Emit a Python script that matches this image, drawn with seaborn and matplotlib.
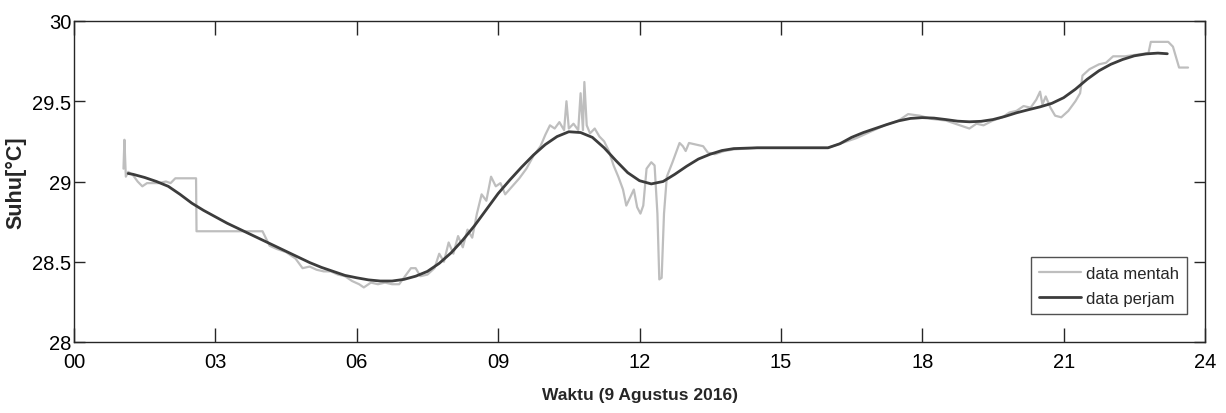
import matplotlib
matplotlib.use("Agg")
import matplotlib.pyplot as plt
import seaborn as sns
import pandas as pd

# raw data (data mentah): time in hours, temperature in deg C
raw_t = [1.05, 1.07, 1.09, 1.10, 1.15, 1.25, 1.35, 1.45, 1.55, 1.65, 1.8, 1.95, 2.05, 2.15, 2.3, 2.45,
         2.59, 2.60, 3.0, 3.5, 4.0, 4.15, 4.3, 4.5, 4.7, 4.85, 5.0, 5.15, 5.3, 5.45, 5.6, 5.75, 5.9,
         6.05, 6.15, 6.3, 6.45, 6.6, 6.75, 6.9, 7.05, 7.15, 7.25, 7.35, 7.5, 7.65, 7.75, 7.85, 7.95,
         8.05, 8.15, 8.25, 8.35, 8.45, 8.55, 8.65, 8.75, 8.85, 8.95, 9.05, 9.15, 9.3, 9.45, 9.6, 9.75,
         9.9, 10.0, 10.1, 10.2, 10.3, 10.4, 10.45, 10.5, 10.6, 10.7, 10.75, 10.8, 10.83, 10.88, 10.95,
         11.05, 11.15, 11.25, 11.35, 11.45, 11.55, 11.65, 11.72, 11.8, 11.88, 11.95, 12.02, 12.08,
         12.15, 12.25, 12.32, 12.38, 12.42, 12.47, 12.52, 12.58, 12.7, 12.85, 12.92, 12.98, 13.05,
         13.2, 13.35, 13.45, 13.6, 13.8, 14.0, 14.5, 15.0, 15.5, 16.0, 16.3, 16.6, 16.9, 17.2, 17.5,
         17.7, 17.95, 18.2, 18.5, 18.8, 19.0, 19.15, 19.3, 19.5, 19.7, 19.85, 20.0, 20.15, 20.3,
         20.42, 20.5, 20.55, 20.62, 20.72, 20.82, 20.95, 21.1, 21.25, 21.35, 21.4, 21.55, 21.75,
         21.9, 22.05, 22.3, 22.55, 22.8, 22.85, 23.05, 23.22, 23.32, 23.38, 23.45, 23.64]
raw_v = [29.08, 29.26, 29.10, 29.03, 29.06, 29.04, 29.00, 28.97, 28.99, 28.99, 28.99, 29.00, 28.99,
         29.02, 29.02, 29.02, 29.02, 28.69, 28.69, 28.69, 28.69, 28.60, 28.58, 28.56, 28.52, 28.46,
         28.47, 28.45, 28.44, 28.44, 28.42, 28.41, 28.38, 28.36, 28.34, 28.37, 28.36, 28.37, 28.36,
         28.36, 28.42, 28.46, 28.46, 28.41, 28.42, 28.46, 28.55, 28.50, 28.62, 28.55, 28.66, 28.59,
         28.70, 28.65, 28.80, 28.92, 28.88, 29.03, 28.97, 28.99, 28.92, 28.97, 29.02, 29.08, 29.16,
         29.22, 29.29, 29.35, 29.33, 29.37, 29.32, 29.50, 29.33, 29.36, 29.32, 29.55, 29.32, 29.62,
         29.35, 29.30, 29.33, 29.28, 29.25, 29.19, 29.10, 29.03, 28.95, 28.85, 28.90, 28.95, 28.84,
         28.80, 28.85, 29.08, 29.12, 29.10, 28.80, 28.39, 28.40, 28.80, 29.03, 29.12, 29.24, 29.22,
         29.19, 29.24, 29.23, 29.22, 29.18, 29.17, 29.19, 29.20, 29.21, 29.21, 29.21, 29.21, 29.24,
         29.27, 29.31, 29.35, 29.38, 29.42, 29.41, 29.39, 29.38, 29.35, 29.33, 29.36, 29.35, 29.38,
         29.40, 29.43, 29.44, 29.47, 29.46, 29.51, 29.56, 29.48, 29.53, 29.46, 29.41, 29.40, 29.44,
         29.50, 29.55, 29.66, 29.70, 29.73, 29.74, 29.78, 29.78, 29.79, 29.80, 29.87, 29.87, 29.87,
         29.84, 29.78, 29.71, 29.71]

# hourly smoothed data (data perjam)
hour_t = [1.15, 1.25, 1.5, 1.75, 2.0, 2.25, 2.5, 2.75, 3.0, 3.25, 3.5, 3.75, 4.0, 4.25, 4.5, 4.75,
          5.0, 5.25, 5.5, 5.75, 6.0, 6.25, 6.5, 6.75, 7.0, 7.25, 7.5, 7.75, 8.0, 8.25, 8.5, 8.75,
          9.0, 9.25, 9.5, 9.75, 10.0, 10.25, 10.5, 10.75, 11.0, 11.25, 11.5, 11.75, 12.0, 12.25,
          12.5, 12.75, 13.0, 13.25, 13.5, 13.75, 14.0, 14.5, 15.0, 15.5, 16.0, 16.25, 16.5, 16.75,
          17.0, 17.25, 17.5, 17.75, 18.0, 18.25, 18.5, 18.75, 19.0, 19.25, 19.5, 19.75, 20.0,
          20.25, 20.5, 20.75, 21.0, 21.25, 21.5, 21.75, 22.0, 22.25, 22.5, 22.75, 23.0, 23.2]
hour_v = [29.05, 29.045, 29.025, 29.00, 28.97, 28.92, 28.865, 28.82, 28.78, 28.74, 28.705, 28.67,
          28.635, 28.60, 28.565, 28.53, 28.495, 28.465, 28.44, 28.415, 28.40, 28.387, 28.38, 28.38,
          28.39, 28.41, 28.44, 28.49, 28.555, 28.635, 28.725, 28.825, 28.925, 29.01, 29.09, 29.165,
          29.23, 29.28, 29.31, 29.305, 29.275, 29.21, 29.13, 29.055, 29.005, 28.985, 29.00, 29.045,
          29.095, 29.14, 29.17, 29.193, 29.205, 29.21, 29.21, 29.21, 29.21, 29.235, 29.275, 29.305,
          29.33, 29.355, 29.378, 29.393, 29.398, 29.395, 29.386, 29.376, 29.372, 29.375, 29.386,
          29.405, 29.428, 29.447, 29.465, 29.487, 29.522, 29.575, 29.637, 29.69, 29.73, 29.76,
          29.783, 29.795, 29.80, 29.796]

xticks = [0, 3, 6, 9, 12, 15, 18, 21, 24]
xticklabels = ["00", "03", "06", "09", "12", "15", "18", "21", "24"]
yticks = [28, 28.5, 29, 29.5, 30]
yticklabels = ["28", "28.5", "29", "29.5", "30"]

sns.set_style("ticks")
plt.rcParams['font.family'] = ['Liberation Sans', 'DejaVu Sans']

fig = plt.figure(figsize=(12.26, 4.14), dpi=100)
ax = fig.add_axes([74/1226, 1-343/414, (1205-74)/1226, (343-22)/414])

raw_df = pd.DataFrame({"t": raw_t, "v": raw_v})
hour_df = pd.DataFrame({"t": hour_t, "v": hour_v})

sns.lineplot(data=raw_df, x="t", y="v", ax=ax, estimator=None, sort=False,
             color="#bebebe", lw=1.6, label="data mentah")
sns.lineplot(data=hour_df, x="t", y="v", ax=ax, estimator=None, sort=False,
             color="#3c3c3c", lw=2.0, label="data perjam")

ax.set_xlim(0, 24)
ax.set_ylim(28, 30)
ax.set_xticks(xticks)
ax.set_xticklabels(xticklabels)
ax.set_yticks(yticks)
ax.set_yticklabels(yticklabels)
for s in ax.spines.values():
    s.set_visible(True)
    s.set_color("#262626")
    s.set_linewidth(1.0)
ax.tick_params(axis="x", direction="in", length=10, width=1, top=True, labelsize=14.5,
               pad=7, colors="#262626", labelcolor="black")
ax.tick_params(axis="y", direction="in", length=8, width=1, right=True, labelsize=14.5,
               pad=2, colors="#262626", labelcolor="black")

ax.set_xlabel("Waktu (9 Agustus 2016)", fontsize=12.5, fontweight="bold", labelpad=12)
ax.set_ylabel("Suhu[°C]", fontsize=15.5, fontweight="bold", labelpad=4)

leg = ax.legend(loc="lower right", bbox_to_anchor=(0.9841, 0.087), fontsize=12, frameon=True,
                fancybox=False, edgecolor="#262626", handlelength=2.5, handletextpad=0.3,
                borderpad=0.5, labelspacing=0.6, borderaxespad=0)
leg.get_frame().set_linewidth(1.0)

fig.savefig("out.png", dpi=100)
